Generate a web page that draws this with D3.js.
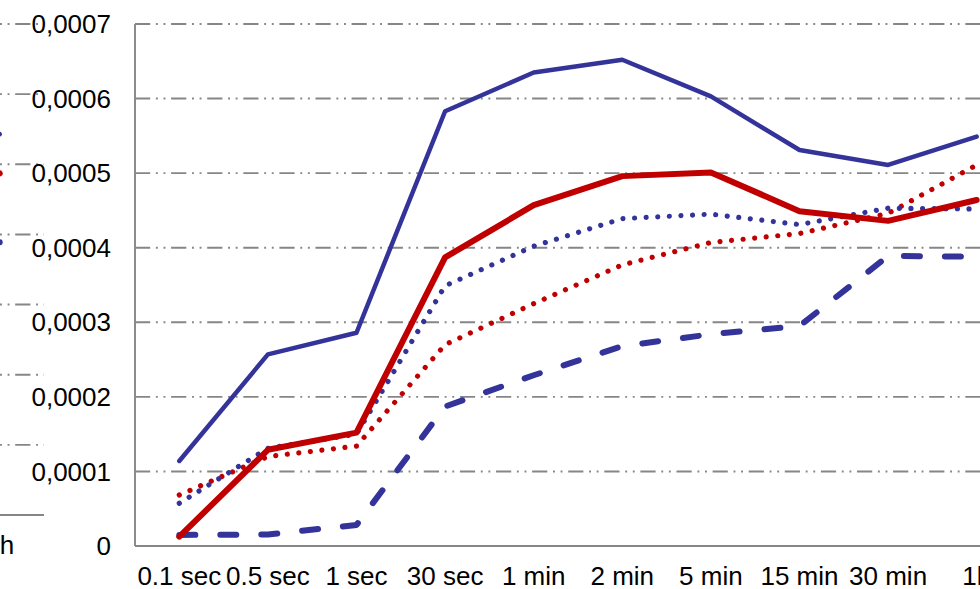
<!DOCTYPE html>
<html>
<head>
<meta charset="utf-8">
<script src="https://cdn.jsdelivr.net/npm/d3@7"></script>
<style>
  html, body { margin: 0; padding: 0; background: #fff; }
  svg { display: block; }
  text { font-family: "Liberation Sans", Arial, sans-serif; fill: #000; }
</style>
</head>
<body>
<svg id="chart" width="980" height="589"></svg>
<script>
// Time steps on the category axis
const categories = ["0.1 sec", "0.5 sec", "1 sec", "30 sec", "1 min", "2 min", "5 min", "15 min", "30 min", "1h"];
const yTicks = [0, 0.0001, 0.0002, 0.0003, 0.0004, 0.0005, 0.0006, 0.0007];

// Series values
const blueSolid  = [0.000114, 0.000257, 0.000286, 0.000583, 0.000635, 0.000652, 0.000603, 0.000531, 0.000511, 0.000549];
const redSolid   = [0.0000125, 0.000129, 0.000152, 0.000387, 0.000457, 0.000496, 0.000501, 0.000449, 0.000436, 0.000464];
const blueDotted = [0.0000573, 0.000131, 0.000150, 0.000349, 0.000402, 0.000439, 0.000445, 0.000431, 0.000453, 0.000452];
const redDotted  = [0.0000684, 0.000120, 0.000134, 0.000270, 0.000325, 0.000377, 0.000407, 0.000419, 0.000446, 0.000511];
const blueDashed = [0.0000148, 0.0000155, 0.0000282, 0.000187, 0.000229, 0.000268, 0.000284, 0.000295, 0.000389, 0.000388];

// Neighbouring panel (only its last two steps reach into view)
const sideCategories = ["30 min", "1h"];
const sideBlueSolid  = [0.000459, 0.000543];
const sideRedSolid   = [0.000440, 0.000487];
const sideRedDotted  = [0.000395, 0.000417];
const sideBlueDashed = [0.000389, 0.000389];

const BLUE = "#333399", RED = "#C00000", GRID = "#868686";
const svg = d3.select("#chart");

const styles = {
  blueSolid:  { color: BLUE, width: 4.5, dash: null },
  redSolid:   { color: RED,  width: 6,   dash: null },
  blueDotted: { color: BLUE, width: 5.2, dash: "0.01,11.6" },
  redDotted:  { color: RED,  width: 5.2, dash: "0.01,11.6" },
  blueDashed: { color: BLUE, width: 6,   dash: "16,25" }
};

function drawLine(g, cats, vals, st, cx, y) {
  g.append("path")
    .attr("d", d3.line().x((d, i) => cx(cats[i])).y(d => y(d))(vals))
    .attr("fill", "none").attr("stroke", st.color).attr("stroke-width", st.width)
    .attr("stroke-linecap", "round").attr("stroke-linejoin", "round")
    .attr("stroke-dasharray", st.dash);
}

// ---------- neighbouring panel on the left ----------
{
  const bandW = 88.6;
  const right = 44;
  const x = d3.scaleBand().domain(sideCategories).range([right - bandW * 2, right]).padding(0);
  const cx = c => x(c) + x.bandwidth() / 2;
  const y = d3.scaleLinear().domain([0, 0.0007]).range([515, 24]);
  const g = svg.append("g");

  g.selectAll("line.grid").data(yTicks.filter(t => t > 0)).join("line")
    .attr("x1", x.range()[0]).attr("x2", right)
    .attr("y1", d => y(d)).attr("y2", d => y(d))
    .attr("stroke", GRID).attr("stroke-width", 1.9)
    .attr("stroke-dasharray", "15.2,5.7,1.9,5.7,1.9,5.7")
    .attr("stroke-dashoffset", -4);
  g.append("line")
    .attr("x1", x.range()[0]).attr("x2", right)
    .attr("y1", y(0)).attr("y2", y(0))
    .attr("stroke", GRID).attr("stroke-width", 1.9);

  drawLine(g, sideCategories, sideRedDotted, styles.redDotted, cx, y);
  drawLine(g, sideCategories, sideBlueDashed, styles.blueDashed, cx, y);
  drawLine(g, sideCategories, sideRedSolid, styles.redSolid, cx, y);
  drawLine(g, sideCategories, sideBlueSolid, styles.blueSolid, cx, y);

  g.selectAll("text.xl").data(sideCategories).join("text")
    .attr("x", d => cx(d)).attr("y", y(0) + 39)
    .attr("text-anchor", "middle").attr("font-size", 26).text(d => d);
}

// ---------- main panel ----------
{
  const bandW = 88.6;
  const left = 135;
  const x = d3.scaleBand().domain(categories).range([left, left + bandW * categories.length]).padding(0);
  const cx = c => x(c) + x.bandwidth() / 2;
  const y = d3.scaleLinear().domain([0, 0.0007]).range([546, 24]);
  const g = svg.append("g");

  g.selectAll("line.grid").data(yTicks.filter(t => t > 0)).join("line")
    .attr("x1", left).attr("x2", x.range()[1])
    .attr("y1", d => y(d)).attr("y2", d => y(d))
    .attr("stroke", GRID).attr("stroke-width", 1.9)
    .attr("stroke-dasharray", "15.2,5.7,1.9,5.7,1.9,5.7");

  // axes
  g.append("line").attr("x1", left).attr("x2", left).attr("y1", y(0.0007)).attr("y2", y(0))
    .attr("stroke", GRID).attr("stroke-width", 1.9);
  g.append("line").attr("x1", left).attr("x2", x.range()[1]).attr("y1", y(0)).attr("y2", y(0))
    .attr("stroke", GRID).attr("stroke-width", 1.9);

  const fmt = v => v === 0 ? "0" : d3.format(".4f")(v).replace(".", ",");
  g.selectAll("text.yl").data(yTicks).join("text")
    .attr("x", 111).attr("y", d => y(d)).attr("dy", "0.35em")
    .attr("text-anchor", "end").attr("font-size", 26).text(fmt);

  g.selectAll("text.xl").data(categories).join("text")
    .attr("x", d => cx(d)).attr("y", y(0) + 39)
    .attr("text-anchor", "middle").attr("font-size", 26).text(d => d);

  drawLine(g, categories, blueDashed, styles.blueDashed, cx, y);
  drawLine(g, categories, redDotted, styles.redDotted, cx, y);
  drawLine(g, categories, blueDotted, styles.blueDotted, cx, y);
  drawLine(g, categories, blueSolid, styles.blueSolid, cx, y);
  drawLine(g, categories, redSolid, styles.redSolid, cx, y);
}
</script>
</body>
</html>
